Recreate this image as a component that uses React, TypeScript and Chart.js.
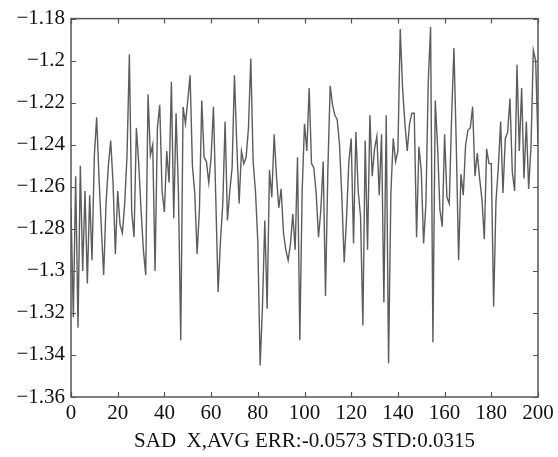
import React, { useEffect, useRef } from "react";
import { Chart, registerables } from "chart.js";

Chart.register(...registerables);

const xTicks: number[] = [0, 20, 40, 60, 80, 100, 120, 140, 160, 180, 200];
const yTicks: number[] = [-1.36, -1.34, -1.32, -1.3, -1.28, -1.26, -1.24, -1.22, -1.2, -1.18];
const axisTitle = "SAD  X,AVG ERR:-0.0573 STD:0.0315";

const errValues: number[] = [
  -1.270, -1.322, -1.255, -1.327, -1.250, -1.300, -1.262, -1.306, -1.264, -1.295,
  -1.245, -1.227, -1.256, -1.280, -1.302, -1.268, -1.250, -1.238, -1.258, -1.292,
  -1.262, -1.278, -1.282, -1.268, -1.245, -1.197, -1.272, -1.284, -1.232, -1.249,
  -1.271, -1.290, -1.302, -1.216, -1.245, -1.240, -1.300, -1.232, -1.221, -1.262,
  -1.272, -1.243, -1.258, -1.210, -1.275, -1.225, -1.262, -1.333, -1.222, -1.230,
  -1.219, -1.207, -1.250, -1.263, -1.292, -1.271, -1.219, -1.246, -1.248, -1.258,
  -1.246, -1.222, -1.265, -1.310, -1.286, -1.268, -1.229, -1.276, -1.262, -1.251,
  -1.207, -1.240, -1.268, -1.243, -1.249, -1.246, -1.232, -1.199, -1.248, -1.262,
  -1.286, -1.345, -1.317, -1.276, -1.318, -1.252, -1.265, -1.235, -1.255, -1.270,
  -1.261, -1.282, -1.290, -1.295, -1.287, -1.273, -1.290, -1.246, -1.333, -1.262,
  -1.230, -1.243, -1.213, -1.249, -1.251, -1.263, -1.284, -1.271, -1.248, -1.312,
  -1.252, -1.212, -1.221, -1.226, -1.228, -1.240, -1.265, -1.296, -1.275, -1.248,
  -1.237, -1.287, -1.234, -1.262, -1.274, -1.326, -1.238, -1.290, -1.226, -1.255,
  -1.242, -1.236, -1.264, -1.235, -1.315, -1.226, -1.344, -1.263, -1.237, -1.248,
  -1.243, -1.185, -1.213, -1.230, -1.243, -1.230, -1.225, -1.225, -1.284, -1.241,
  -1.252, -1.287, -1.268, -1.210, -1.184, -1.334, -1.219, -1.241, -1.271, -1.279,
  -1.235, -1.265, -1.268, -1.227, -1.194, -1.240, -1.295, -1.254, -1.264, -1.240,
  -1.233, -1.232, -1.222, -1.255, -1.244, -1.256, -1.266, -1.285, -1.242, -1.249,
  -1.249, -1.317, -1.267, -1.251, -1.229, -1.263, -1.237, -1.234, -1.218, -1.253,
  -1.262, -1.202, -1.243, -1.213, -1.256, -1.229, -1.261, -1.241, -1.195, -1.200,
  -1.239,
];

const FONT = "'Liberation Serif', 'DejaVu Serif', serif";

const fmt = (v: number) => {
  let s = v.toFixed(2);
  s = s.replace(/0+$/, "").replace(/\.$/, "");
  return s.replace("-", "\u2212");
};

const boxTicks = {
  id: "boxTicks",
  afterDraw(chart: any) {
    const { ctx, chartArea, scales } = chart;
    const { left, right, top, bottom } = chartArea;
    ctx.save();
    ctx.strokeStyle = "#555";
    ctx.lineWidth = 1.5;
    ctx.strokeRect(left, top, right - left, bottom - top);
    const len = 5;
    ctx.lineWidth = 1.2;
    ctx.beginPath();
    xTicks.forEach((t) => {
      const px = Math.round(scales.x.getPixelForValue(t)) + 0.5;
      ctx.moveTo(px, bottom);
      ctx.lineTo(px, bottom - len);
      ctx.moveTo(px, top);
      ctx.lineTo(px, top + len);
    });
    yTicks.forEach((t) => {
      const py = Math.round(scales.y.getPixelForValue(t)) + 0.5;
      ctx.moveTo(left, py);
      ctx.lineTo(left + len, py);
      ctx.moveTo(right, py);
      ctx.lineTo(right - len, py);
    });
    ctx.stroke();
    ctx.restore();
  },
};

export default function App() {
  const ref = useRef<HTMLCanvasElement | null>(null);
  useEffect(() => {
    if (!ref.current) return;
    const chart = new Chart(ref.current, {
      type: "line",
      data: {
        datasets: [
          {
            data: errValues.map((v, i) => ({ x: i, y: v })),
            borderColor: "#5c5c5c",
            borderWidth: 1.4,
            pointRadius: 0,
            tension: 0,
            fill: false,
          },
        ],
      },
      options: {
        animation: false,
        responsive: false,
        devicePixelRatio: 1,
        layout: { padding: { top: 17, right: 20, left: 0, bottom: 0 } },
        plugins: { legend: { display: false }, tooltip: { enabled: false } },
        scales: {
          x: {
            type: "linear",
            min: 0,
            max: 200,
            afterBuildTicks: (axis: any) => {
              axis.ticks = xTicks.map((v) => ({ value: v }));
            },
            afterFit: (axis: any) => {
              axis.height = 60;
            },
            grid: { display: false, drawTicks: false },
            border: { display: false },
            ticks: {
              color: "#111",
              font: { family: FONT, size: 21 },
              padding: 4,
              maxRotation: 0,
              autoSkip: false,
              callback: (v: any) => String(v),
            },
            title: {
              display: true,
              text: axisTitle,
              color: "#111",
              font: { family: FONT, size: 21 },
              padding: { top: 2, bottom: 3 },
            },
          },
          y: {
            type: "linear",
            min: -1.36,
            max: -1.18,
            afterBuildTicks: (axis: any) => {
              axis.ticks = yTicks.map((v) => ({ value: v }));
            },
            afterFit: (axis: any) => {
              axis.width = 71;
            },
            grid: { display: false, drawTicks: false },
            border: { display: false },
            ticks: {
              color: "#111",
              font: { family: FONT, size: 21 },
              padding: 6,
              autoSkip: false,
              callback: (v: any) => fmt(Number(v)),
            },
          },
        },
      },
      plugins: [boxTicks],
    });
    return () => chart.destroy();
  }, []);
  return (
    <div style={{ position: "fixed", left: 0, top: 0, width: 558, height: 457, background: "#fff" }}>
      <canvas ref={ref} width={558} height={457} style={{ display: "block" }} />
    </div>
  );
}
